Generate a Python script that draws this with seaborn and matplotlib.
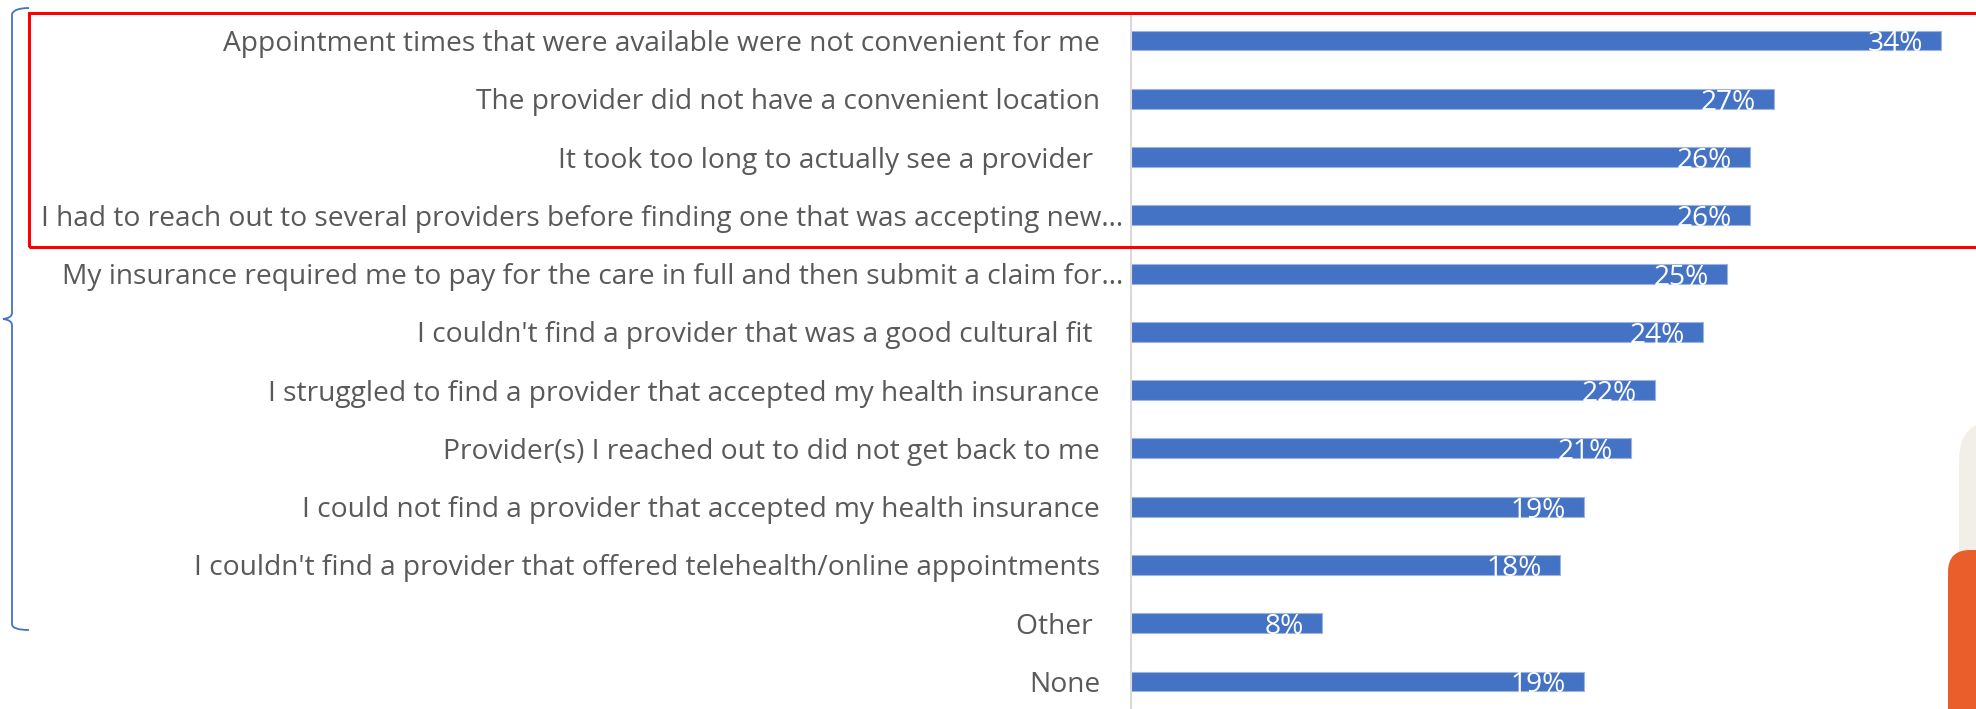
import matplotlib
matplotlib.use("Agg")
import matplotlib.pyplot as plt
import seaborn as sns
import pandas as pd
from matplotlib.patches import Rectangle, FancyBboxPatch, PathPatch
from matplotlib.path import Path
from matplotlib.transforms import IdentityTransform, ScaledTranslation

categories = [
    "Appointment times that were available were not convenient for me",
    "The provider did not have a convenient location",
    "It took too long to actually see a provider ",
    "I had to reach out to several providers before finding one that was accepting new\u2026",
    "My insurance required me to pay for the care in full and then submit a claim for\u2026",
    "I couldn't find a provider that was a good cultural fit ",
    "I struggled to find a provider that accepted my health insurance",
    "Provider(s) I reached out to did not get back to me",
    "I could not find a provider that accepted my health insurance",
    "I couldn't find a provider that offered telehealth/online appointments",
    "Other ",
    "None",
]
values = [34, 27, 26, 26, 25, 24, 22, 21, 19, 18, 8, 19]
value_labels = [f"{v}%" for v in values]

W, H, DPI = 1976, 709, 100
BAR = "#4472C4"
TXT = "#595959"
FONT = "Open Sans"

sns.set_theme(style="white")
plt.rcParams["font.family"] = [FONT, "DejaVu Sans"]

fig = plt.figure(figsize=(W / DPI, H / DPI), dpi=DPI)
fig.patch.set_facecolor("white")

axis_x = 1131
px_per_pct = 23.82
top_px = 14
ax = fig.add_axes([axis_x / W, 0, 1 - axis_x / W, 1 - top_px / H])

df = pd.DataFrame({"cat": categories, "val": values})
sns.barplot(data=df, x="val", y="cat", orient="h", color=BAR, saturation=1,
            width=0.342, edgecolor="#9db3e0", linewidth=0.8, ax=ax)

ax.set_xlim(0, (W - axis_x) / px_per_pct)
spacing = 58.27
ax.set_ylim(11 + 27.5 / spacing, -26.5 / spacing)
ax.set_xlabel("")
ax.set_ylabel("")
ax.set_xticks([])
for s in ["top", "right", "bottom"]:
    ax.spines[s].set_visible(False)
ax.spines["left"].set_color("#d9d9d9")
ax.spines["left"].set_linewidth(1.5)
ax.set_facecolor("none")

# fit font size so the first label is ~876 px wide
renderer = fig.canvas.get_renderer()
t = fig.text(0, 0, categories[0], fontsize=18, family=[FONT, "DejaVu Sans"])
w = t.get_window_extent(renderer).width
fs = 18 * 876 / w
t.remove()

ax.tick_params(axis="y", length=0, pad=31 * 72 / DPI, labelsize=fs, labelcolor=TXT)
for i, lab in enumerate(ax.get_yticklabels()):
    lab.set_family([FONT, "DejaVu Sans"])
    if categories[i].endswith("\u2026"):
        lab.set_transform(lab.get_transform() + ScaledTranslation(23 / DPI, 0, fig.dpi_scale_trans))

# value labels (white, right aligned inside bar end)
for i, (v, lab) in enumerate(zip(values, value_labels)):
    ax.annotate(lab, xy=(v, i + 0.171), xytext=(-18 * 72 / DPI, -1 * 72 / DPI),
                textcoords="offset points", ha="right", va="baseline",
                color="white", fontsize=fs * 1.0, family=[FONT, "DejaVu Sans"])

ident = IdentityTransform()

def P(x, y):
    return (x, H - y)

# red highlight box
fig.patches.append(Rectangle(P(29, 247), W + 20 - 29, 247 - 13, fill=False,
                             edgecolor="#ff0000", linewidth=3 * 72 / DPI,
                             transform=ident, figure=fig, zorder=5))

# left brace
verts = [P(29, 8), P(14, 8), P(12, 14),
         P(12, 313),
         P(12, 318), P(3, 319),
         P(12, 320), P(12, 325),
         P(12, 624),
         P(12, 630), P(29, 630)]
codes = [Path.MOVETO, Path.CURVE3, Path.CURVE3,
         Path.LINETO,
         Path.CURVE3, Path.CURVE3,
         Path.CURVE3, Path.CURVE3,
         Path.LINETO,
         Path.CURVE3, Path.CURVE3]
fig.patches.append(PathPatch(Path(verts, codes), fill=False, edgecolor=BAR,
                             linewidth=1.3, transform=ident, figure=fig, zorder=5))

# decorative shapes at right edge
fig.patches.append(FancyBboxPatch(P(1959 + 40, 760), 100, 300,
                                  boxstyle="round,pad=40,rounding_size=40",
                                  facecolor="#f2eee8", edgecolor="none",
                                  transform=ident, figure=fig, zorder=3))
fig.patches.append(FancyBboxPatch(P(1948 + 22, 760), 100, 760 - 550 - 22,
                                  boxstyle="round,pad=22,rounding_size=22",
                                  facecolor="#e95e2a", edgecolor="none",
                                  transform=ident, figure=fig, zorder=4))

fig.savefig("out.png", dpi=DPI, facecolor="white")
